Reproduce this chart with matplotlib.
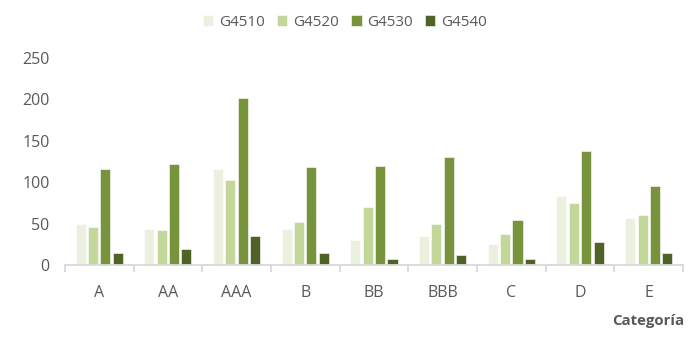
import matplotlib.pyplot as plt
import numpy as np

categories = ['A', 'AA', 'AAA', 'B', 'BB', 'BBB', 'C', 'D', 'E']
series_names = ['G4510', 'G4520', 'G4530', 'G4540']
g4510 = [50, 44, 116, 44, 30, 35, 26, 84, 57]
g4520 = [46, 43, 103, 52, 70, 50, 37, 75, 60]
g4530 = [116, 122, 202, 118, 120, 130, 55, 138, 95]
g4540 = [15, 19, 35, 15, 8, 12, 8, 28, 15]
y_ticks = [0, 50, 100, 150, 200, 250]

colors = ['#EBF1DE', '#C4D79B', '#77933C', '#4F6228']
grey = '#595959'

plt.rcParams['font.family'] = ['Open Sans', 'DejaVu Sans']

fig = plt.figure(figsize=(6.97, 3.43), dpi=100)
ax = fig.add_axes([0.093, 0.227, 0.887, 0.604])

x = np.arange(len(categories))
step = 0.18
width = 0.146
for i, (name, vals) in enumerate(zip(series_names, [g4510, g4520, g4530, g4540])):
    ax.bar(x + (i - 1.5) * step, vals, width, color=colors[i], label=name,
           edgecolor='white', linewidth=0.4)

ax.set_xlim(-0.5, len(categories) - 0.5)
ax.set_ylim(0, 250)
ax.set_yticks(y_ticks)
ax.set_xticks(x)
ax.set_xticklabels(categories)
ax.set_xticks(np.arange(-0.5, len(categories)), minor=True)

for s in ['top', 'right', 'left']:
    ax.spines[s].set_visible(False)
ax.spines['bottom'].set_color('#D9D9D9')
ax.spines['bottom'].set_linewidth(1.3)

ax.tick_params(axis='y', length=0, labelsize=11.5, labelcolor=grey, pad=11)
ax.tick_params(axis='x', which='major', length=0, labelsize=11.5, labelcolor=grey, pad=14)
ax.tick_params(axis='x', which='minor', length=5, width=1.3, color='#D9D9D9')

fig.text(0.982, 0.065, 'Categoría', ha='right', va='center', fontsize=10.8,
         fontweight='bold', color=grey)

fig.legend(loc='center', bbox_to_anchor=(0.495, 0.935), ncol=4, frameon=False,
           fontsize=11, labelcolor=grey, handlelength=0.7, handleheight=0.7,
           handletextpad=0.4, columnspacing=0.75)

fig.savefig('out.png', dpi=100)
